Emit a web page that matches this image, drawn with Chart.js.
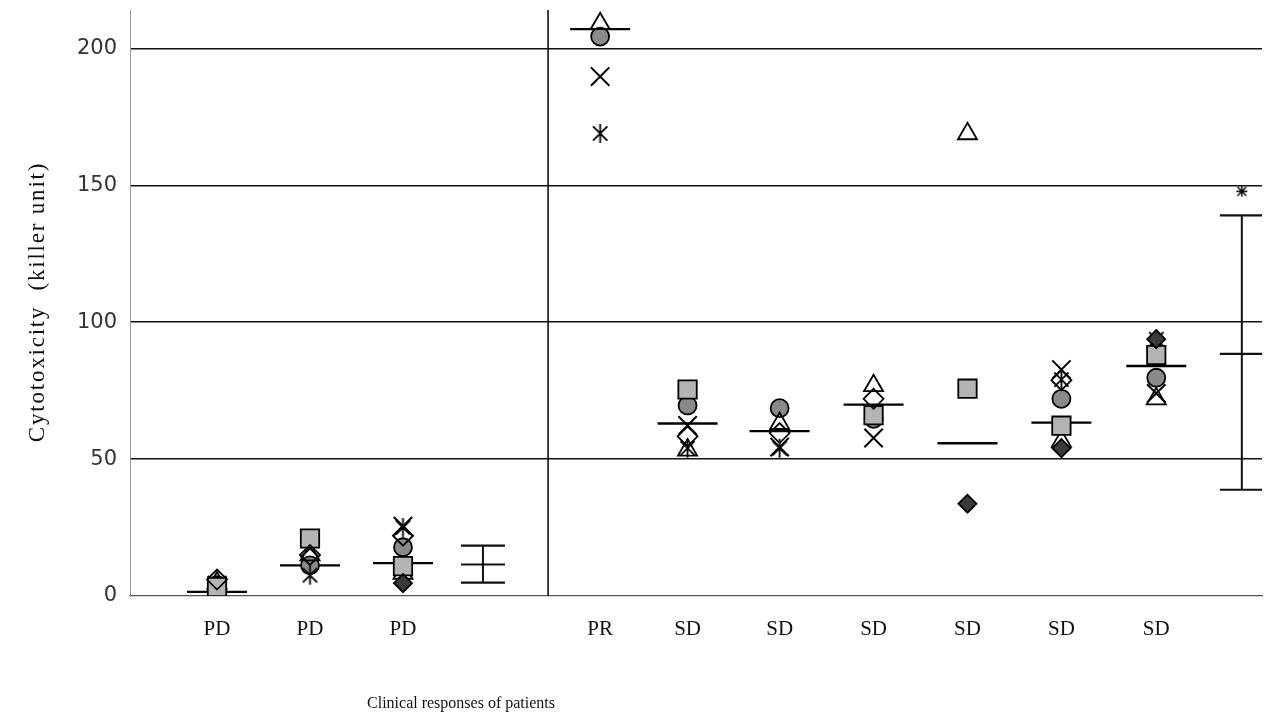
<!DOCTYPE html>
<html><head><meta charset="utf-8">
<script src="https://cdn.jsdelivr.net/npm/chart.js@4.4.1/dist/chart.umd.min.js"></script>
<style>html,body{margin:0;padding:0;background:#fff;}#wrap{width:1267px;height:722px;position:relative;}</style>
</head><body><div id="wrap"><canvas id="c" width="1267" height="722"></canvas></div>
<script>
// ---- data ----
const categoryLabels = ['PD','PD','PD','','PR','SD','SD','SD','SD','SD','SD',''];
const categorySlots  = [1, 2, 3, 3.86, 5.12, 6.06, 7.05, 8.06, 9.07, 10.08, 11.1, 12.02];
const dividerSlot = 4.56;
const yTickValues = [0, 50, 100, 150, 200];
const yTitle = 'Cytotoxicity  (killer unit)';
const xTitle = 'Clinical responses of patients';

const filledDiamondValues = [null, null, 4.7, null, null, null, null, null, 33.7, 54, 93.8, null];
const openDiamondValues   = [6, 15, 22, null, null, 58.3, 59.5, 72, null, 78.8, null, null];
const squareValues        = [3.3, 21, 10.9, null, null, 75.4, null, 66, 75.7, 62.2, 88, null];
const triangleValues      = [4.7, 15, 8.3, null, 209, 53.3, 63, 76.8, 168.8, 56.5, 72, null];
const crossValues         = [4, 17.4, 25.5, null, 189.7, 62.3, 54.4, 57.7, null, 82.7, 74, null];
const starValues          = [3, 7.6, 25, null, 168.9, 54, 54, null, null, 79, 93.8, null];
const circleValues        = [4, 11.2, 17.8, null, 204.3, 69.6, 68.6, 64.7, null, 72, 79.7, null];
const meanValues          = [1.5, 11.2, 12, null, 207, 63, 60.2, 69.9, 55.8, 63.3, 84, null];
const errLowValues        = [null, null, null, 4.9, null, null, null, null, null, null, null, 38.8];
const errMidValues        = [null, null, null, 11.5, null, null, null, null, null, null, null, 88.4];
const errHighValues       = [null, null, null, 18.4, null, null, null, null, null, null, null, 139];
const outlierValues       = [null, null, null, null, null, null, null, null, null, null, null, 147.8];

// ---- helpers ----
function toPoints(arr){ const out=[]; arr.forEach((v,i)=>{ if(v!=null) out.push({x:categorySlots[i], y:v}); }); return out; }
function makeStar(size, lw, withH){
  const c=document.createElement('canvas'); c.width=c.height=size; const g=c.getContext('2d');
  g.strokeStyle='#000'; g.lineWidth=lw; const h=size/2, d=size*0.34;
  g.beginPath(); g.moveTo(h-d,h-d); g.lineTo(h+d,h+d); g.moveTo(h+d,h-d); g.lineTo(h-d,h+d);
  g.moveTo(h,1); g.lineTo(h,size-1);
  if(withH){ g.moveTo(1,h); g.lineTo(size-1,h); }
  g.stroke(); return c;
}
const starImg = makeStar(21, 1.8, false);
const asteriskImg = makeStar(13, 1.4, true);

const datasets = [];
datasets.push({data:[{x:dividerSlot,y:0},{x:dividerSlot,y:214}], showLine:true, borderColor:'#111', borderWidth:1.6, pointRadius:0, clip:false});
errLowValues.forEach((v,i)=>{
  if(v==null) return;
  datasets.push({data:[{x:categorySlots[i],y:v},{x:categorySlots[i],y:errHighValues[i]}], showLine:true, borderColor:'#111', borderWidth:2, pointRadius:0});
});
datasets.push({data:[...toPoints(errLowValues),...toPoints(errMidValues),...toPoints(errHighValues)], pointStyle:'line', pointRadius:22, borderColor:'#111', pointBorderWidth:2.2});
datasets.push({data:toPoints(outlierValues), pointStyle:asteriskImg});
const base = {pointBorderColor:'#000', pointBorderWidth:1.8};
datasets.push({...base, data:toPoints(filledDiamondValues), pointStyle:'rectRot', pointRadius:9, pointBackgroundColor:'#3a3a3a'});
datasets.push({...base, data:toPoints(openDiamondValues), pointStyle:'rectRot', pointRadius:10, pointBackgroundColor:'rgba(255,255,255,0)'});
datasets.push({...base, data:toPoints(squareValues), pointStyle:'rect', pointRadius:13, pointBackgroundColor:'#b4b4b4'});
datasets.push({...base, data:toPoints(triangleValues), pointStyle:'triangle', pointRadius:11, pointBackgroundColor:'rgba(255,255,255,0)'});
datasets.push({...base, data:toPoints(crossValues), pointStyle:'crossRot', pointRadius:13, pointBorderWidth:2});
datasets.push({data:toPoints(starValues), pointStyle:starImg});
datasets.push({...base, data:toPoints(circleValues), pointStyle:'circle', pointRadius:9, pointBackgroundColor:'#8a8a8a'});
datasets.push({data:toPoints(meanValues), pointStyle:'line', pointRadius:30, borderColor:'#000', pointBorderColor:'#000', pointBorderWidth:2.4});

const titlePlugin = {
  id:'titles',
  afterDraw(chart){
    const ctx=chart.ctx;
    ctx.save(); ctx.fillStyle='#111'; ctx.font='23px "Liberation Serif"'; ctx.textAlign='center'; ctx.textBaseline='middle';
    if('letterSpacing' in ctx) ctx.letterSpacing='1.8px';
    ctx.translate(38, 302); ctx.rotate(-Math.PI/2); ctx.fillText(yTitle,0,0); ctx.restore();
    ctx.save(); ctx.fillStyle='#111'; ctx.font='16px "Liberation Serif"'; ctx.textAlign='center'; ctx.textBaseline='middle';
    ctx.fillText(xTitle, 461, 704); ctx.restore();
  }
};

new Chart(document.getElementById('c'), {
  type:'scatter',
  data:{datasets},
  plugins:[titlePlugin],
  options:{
    responsive:false, animation:false, events:[],
    layout:{autoPadding:false, padding:{top:10,right:5,left:0,bottom:0}},
    plugins:{legend:{display:false}, tooltip:{enabled:false}},
    scales:{
      x:{type:'linear', min:0.0645, max:12.237,
        afterBuildTicks:s=>{ s.ticks = categorySlots.map(v=>({value:v})); },
        afterFit:s=>{ s.height = 126; s.paddingLeft = 0; s.paddingRight = 0; },
        grid:{display:false},
        border:{display:true, color:'#555', width:1.3, dash:[2,2]},
        ticks:{autoSkip:false, maxRotation:0, padding:13, color:'#111', font:{family:'"Liberation Serif"', size:21},
          callback:(v,i)=>categoryLabels[i]}
      },
      y:{min:0, max:214,
        afterBuildTicks:s=>{ s.ticks = yTickValues.map(v=>({value:v})); },
        afterFit:s=>{ s.width = 130; s.paddingTop = 0; s.paddingBottom = 0; },
        grid:{drawTicks:false, lineWidth:1.4, color:c=>c.tick && c.tick.value===0 ? 'rgba(0,0,0,0)' : '#111'},
        border:{display:true, color:'#999', width:1},
        ticks:{padding:13, color:'#333', font:{family:'"DejaVu Sans"', size:21}}
      }
    }
  }
});
</script></body></html>
